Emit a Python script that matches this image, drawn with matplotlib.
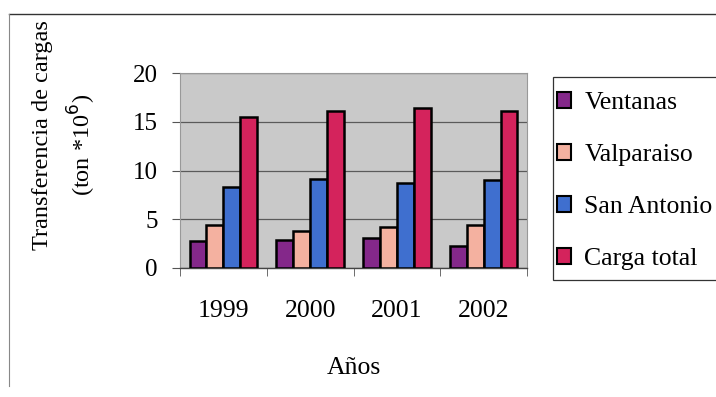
import numpy as np
import matplotlib.pyplot as plt
from matplotlib.lines import Line2D
from matplotlib.patches import Rectangle

# Data
YEARS = ["1999", "2000", "2001", "2002"]
SERIES = ["Ventanas", "Valparaiso", "San Antonio", "Carga total"]
VENTANAS = [2.8, 2.9, 3.1, 2.25]
VALPARAISO = [4.4, 3.8, 4.2, 4.4]
SAN_ANTONIO = [8.3, 9.1, 8.75, 9.0]
CARGA_TOTAL = [15.5, 16.1, 16.4, 16.1]
COLORS = ["#84288a", "#f4b1a0", "#3f6fcf", "#d4235c"]

plt.rcParams['font.family'] = ['Liberation Serif', 'DejaVu Serif']

W, H = 716, 397
fig = plt.figure(figsize=(W / 100, H / 100), dpi=100)
ax = fig.add_axes([180 / W, 1 - 268 / H, 347 / W, 195 / H])

x = np.arange(len(YEARS))
width = 0.195
values = [VENTANAS, VALPARAISO, SAN_ANTONIO, CARGA_TOTAL]
handles = []
for i, (name, vals, col) in enumerate(zip(SERIES, values, COLORS)):
    b = ax.bar(x + (i - 1.5) * width, vals, width, color=col,
               edgecolor="black", linewidth=1.8, label=name, zorder=3)
    handles.append(b)

ax.set_facecolor("#c9c9c9")
ax.set_xlim(-0.5, 3.5)
ax.set_ylim(0, 20)
ax.set_yticks([0, 5, 10, 15, 20])
ax.yaxis.grid(True, color="#5a5a5a", linewidth=0.9, zorder=0)
ax.set_xticks(x)
ax.set_xticklabels(YEARS)
ax.set_xticks(np.arange(-0.5, 4, 1), minor=True)
ax.tick_params(axis="x", which="major", length=0, pad=23, labelsize=18.5)
ax.tick_params(axis="x", which="minor", length=6, color="#555555", direction="out")
ax.tick_params(axis="y", length=6, color="#555555", pad=10, labelsize=18)

for side in ["top", "right", "left"]:
    ax.spines[side].set_color("#999999")
    ax.spines[side].set_linewidth(0.8)
ax.spines["bottom"].set_color("#444444")
ax.spines["bottom"].set_linewidth(1.0)

ax.set_xlabel("Años", fontsize=18.5, labelpad=25)

# y label: two lines placed apart, sitting higher than the axes centre
fig.text(43 / W, 1 - 135 / H, "Transferencia de cargas", rotation=90,
         fontsize=17.5, ha="center", va="center")
fig.text(82 / W, 1 - 145 / H, "(ton *10$^6$)", rotation=90,
         fontsize=17.5, ha="center", va="center")

# legend box drawn separately so the padding can be set freely
fig.add_artist(Rectangle((553 / W, 1 - 280 / H), 170 / W, 203 / H,
                         transform=fig.transFigure, facecolor="white",
                         edgecolor="#333333", linewidth=0.9))
leg = fig.legend(handles=handles, labels=SERIES, loc="upper left",
                 bbox_to_anchor=(557 / W, 1 - 92 / H), fontsize=18.5,
                 frameon=False, handlelength=0.55, handleheight=0.55,
                 handletextpad=0.52, labelspacing=1.17, borderpad=0,
                 borderaxespad=0)
for h in leg.legend_handles:
    h.set_linewidth(1.5)

# page frame lines
fig.add_artist(Line2D([9 / W, 1], [1 - 14 / H, 1 - 14 / H],
                      color="#333333", linewidth=1.0))
fig.add_artist(Line2D([9 / W, 9 / W], [1 - 14 / H, 1 - 386 / H],
                      color="#888888", linewidth=0.8))

fig.savefig("out.png", dpi=100)
